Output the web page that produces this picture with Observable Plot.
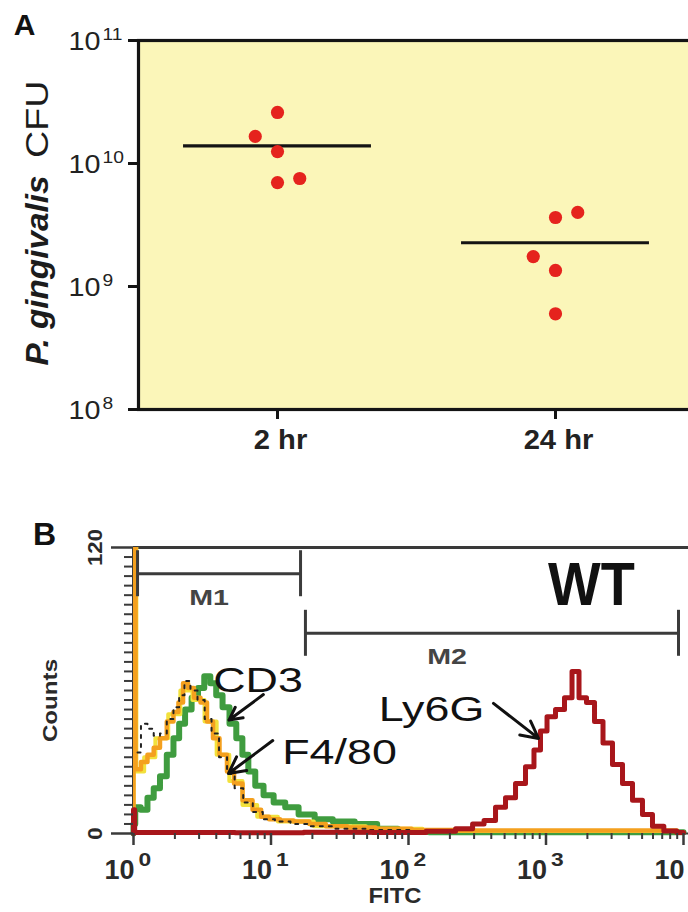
<!DOCTYPE html>
<html><head><meta charset="utf-8">
<script src="https://cdn.jsdelivr.net/npm/d3@7"></script>
<script src="https://cdn.jsdelivr.net/npm/@observablehq/plot@0.6"></script>
<style>
html,body{margin:0;padding:0;background:#fff;}
#fig{position:relative;width:688px;height:912px;overflow:hidden;background:#fff;}
#fig svg{display:block;}
</style></head><body><div id="fig"></div>
<script>
// ---------------- Panel A data ----------------
const timeGroups = ["2 hr", "24 hr"];
const cfu2hr  = [2.60e10, 1.66e10, 1.25e10, 7.0e9, 7.55e9];
const lane2hr = [0, -1, 0, 0, 1];
const cfu24hr  = [3.64e9, 4.0e9, 1.75e9, 1.35e9, 6.0e8];
const lane24hr = [0, 1, -1, 0, 0];
const cfuTicks = [1e8, 1e9, 1e10, 1e11];

// ---------------- Panel B data ----------------
const fitcDecades = [1, 10, 100, 1000, 10000];
const countTicks = [0, 120];
const cd3 = [[1,0],[1,4],[1.06,11],[1.2,10],[1.33,15],[1.48,19],[1.64,24],[1.86,33],[2.05,40],[2.25,46],[2.5,52],[2.8,57],[3.1,61],[3.45,66],[3.8,63],[4.2,58],[4.7,53],[5.3,46],[5.9,40],[6.5,33],[7.2,26],[8.2,20],[9.5,16],[11.5,13],[14,11],[18,8],[24,6],[33,5],[50,4],[70,2],[100,1],[200,0.5],[10000,0.5]];
const f480 = [[1,0],[1,130],[1.07,27],[1.2,30],[1.33,33],[1.48,36],[1.64,40],[1.86,47],[2.05,51],[2.2,55],[2.39,63],[2.6,61],[2.92,57],[3.23,55],[3.63,47],[3.95,40],[4.51,33],[5.08,26],[5.71,21],[6.75,14],[7.98,10],[9,7],[10.4,6],[13,5.5],[16.4,5],[22,4],[28.5,3],[45,2.5],[74,2],[150,1.5],[300,1.3],[1000,1.3],[3000,1.3],[8000,1.3],[10000,0]];
const isotype = [[1.07,34],[1.2,46],[1.33,44],[1.48,41],[1.64,42],[1.86,48],[2.05,53],[2.25,58],[2.45,64],[2.75,60],[3.1,56],[3.5,48],[3.9,42],[4.5,32],[5.1,25],[5.8,19],[6.8,13],[8,9],[9.5,6],[12,5],[16,4],[22,3],[35,2],[70,1.5],[150,1]];
const yellowIso = [[1,0],[1,130],[1.1,26],[1.3,32],[1.6,40],[2.0,50],[2.4,60],[3,56],[3.6,47],[4.5,33],[5.5,22],[7,12],[9,7],[14,5],[30,3],[80,2],[200,0.6],[10000,0.6]];
const ly6g = [[1,0],[1,10],[1.04,0.4],[3,0.4],[10,0.3],[30,0.5],[100,0.4],[180,0.9],[269,2],[318,4],[395,5.5],[467,11],[552,15],[653,21],[771,28],[867,35],[959,43],[1079,49],[1275,52],[1458,57],[1640,68],[1842,57],[2108,55],[2410,47],[2800,38],[3311,29],[3917,21],[4627,14],[5470,8],[6470,3],[8000,1],[10000,0.4]];
const markerNames = ["M1", "M2"];
const markerFrom  = [1.07, 17.8];
const markerTo    = [16.4, 9200];
const markerLevel = [109, 84];
const annotText  = ["CD3", "F4/80", "Ly6G"];
const annotFitc  = [8.05, 31.5, 147];
const annotCount = [64, 34, 52];
const arrowStart = [[8.8, 58.3], [10.3, 39.0], [415, 54.6]];
const arrowTip   = [[4.95, 47.6], [4.91, 25.2], [882, 39.9]];

// ---------------- derived tables ----------------
const points = [
  ...cfu2hr.map((v, i) => ({g: 1, lane: lane2hr[i], cfu: v})),
  ...cfu24hr.map((v, i) => ({g: 2, lane: lane24hr[i], cfu: v}))
];
const means = timeGroups.map((t, i) => ({g: i + 1, label: t, mean: d3.mean(i === 0 ? cfu2hr : cfu24hr)}));
const markers = markerNames.map((n, i) => ({name: n, from: markerFrom[i], to: markerTo[i], level: markerLevel[i]}));
const annots = annotText.map((t, i) => ({text: t, fitc: annotFitc[i], count: annotCount[i]}));
const arrows = annotText.map((t, i) => ({x1: arrowStart[i][0], y1: arrowStart[i][1], x2: arrowTip[i][0], y2: arrowTip[i][1]}));
const minorFitc = [1, 10, 100, 1000].flatMap(d => d3.range(2, 10).map(k => k * d));

const LANE = 0.08, HALF = 0.338;
const FONT = "'Liberation Sans', Arial, Helvetica, sans-serif";
const MID = {textAnchor: "middle", lineAnchor: "middle"};

// ---------------- Panel A ----------------
const plotA = Plot.plot({
  width: 688, height: 470,
  marginLeft: 138, marginTop: 40, marginBottom: 61, marginRight: -6,
  style: {fontFamily: FONT, background: "white"},
  x: {type: "linear", domain: [0.5, 2.5]},
  y: {type: "log", domain: [1e8, 1e11]},
  marks: [
    Plot.frame({fill: "#fbf6b9", stroke: "none"}),
    Plot.ruleY(means, {y: "mean", x1: d => d.g - HALF, x2: d => d.g + HALF, stroke: "#141414", strokeWidth: 3.2}),
    Plot.dot(points, {x: d => d.g + d.lane * LANE, y: "cfu", r: 6.6, fill: "#e5231d", stroke: "none"}),
    Plot.frame({stroke: "#141414", strokeWidth: 3.2}),
    Plot.axisY(cfuTicks, {tickSize: 10, strokeWidth: 3, stroke: "#141414", tickFormat: () => "", label: null}),
    Plot.axisX([1, 2], {tickSize: 10, strokeWidth: 3, stroke: "#141414", tickFormat: () => "", label: null}),
    Plot.text(cfuTicks, {y: d => d, frameAnchor: "left", text: () => "10", textAnchor: "end", lineAnchor: "middle", dx: -38, dy: 1, fontSize: 25, fill: "#222", ariaDescription: "ybase"}),
    Plot.text(cfuTicks, {y: d => d, frameAnchor: "left", text: d => String(Math.round(Math.log10(d))), textAnchor: "start", lineAnchor: "middle", dx: -36, dy: -6, fontSize: 16, fill: "#222", ariaDescription: "yexp"}),
    Plot.text(means, {x: "g", frameAnchor: "bottom", text: "label", ...MID, dx: 3, dy: 31, fontSize: 27, fontWeight: "bold", fill: "#222", ariaDescription: "xlab"}),
    Plot.text(["P. gingivalis"], {text: d => d, frameAnchor: "bottom-left", rotate: -90, textAnchor: "start", lineAnchor: "middle", dx: -101, dy: -44, fontSize: 32, fontWeight: "bold", fontStyle: "italic", fill: "#1c1c1c", ariaDescription: "ytitle1"}),
    Plot.text(["CFU"], {text: d => d, frameAnchor: "top-left", rotate: -90, textAnchor: "end", lineAnchor: "middle", dx: -101, dy: 40, fontSize: 32, fill: "#1c1c1c", ariaDescription: "ytitle2"}),
    Plot.text(["A"], {text: d => d, frameAnchor: "top-left", ...MID, dx: -114, dy: -15, fontSize: 30, fontWeight: "bold", fill: "#111"})
  ]
});

// ---------------- Panel B ----------------
const xy = {x: d => d[0], y: d => d[1], curve: "step"};
const tickStroke = "#3a3a3a";
const plotB = Plot.plot({
  width: 688, height: 442,
  marginLeft: 133, marginRight: 0, marginTop: 77, marginBottom: 79,
  style: {fontFamily: FONT, background: "white"},
  x: {type: "log", domain: [1, 1e4], range: [133, 683]},
  y: {type: "linear", domain: [0, 120]},
  marks: [
    Plot.ruleY([120], {stroke: tickStroke, strokeWidth: 3}),
    Plot.ruleX([1], {stroke: tickStroke, strokeWidth: 3}),
    Plot.ruleY([0], {stroke: tickStroke, strokeWidth: 2}),
    Plot.line(cd3, {...xy, stroke: "#3f9c3f", strokeWidth: 6}),
    Plot.line(yellowIso, {...xy, stroke: "#f2e13c", strokeWidth: 4, clip: true}),
    Plot.line(f480, {...xy, stroke: "#f4a01e", strokeWidth: 4.5, clip: true}),
    Plot.line(isotype, {...xy, stroke: "#222", strokeWidth: 2, strokeDasharray: "3,6"}),
    Plot.line(ly6g, {...xy, stroke: "#a8161b", strokeWidth: 5}),
    Plot.axisY(countTicks, {tickSize: 22, strokeWidth: 2.5, stroke: tickStroke, tickFormat: () => "", label: null}),
    Plot.axisY(d3.range(4, 120, 4), {tickSize: 9, strokeWidth: 2, stroke: tickStroke, tickFormat: () => "", label: null}),
    Plot.axisX(fitcDecades, {tickSize: 12, strokeWidth: 2.5, stroke: tickStroke, tickFormat: () => "", label: null}),
    Plot.axisX(minorFitc, {tickSize: 6, strokeWidth: 2, stroke: tickStroke, tickFormat: () => "", label: null}),
    // gate markers
    Plot.ruleY(markers, {y: "level", x1: "from", x2: "to", stroke: "#3b3b3b", strokeWidth: 3}),
    Plot.ruleX(markers, {x: "from", y1: "level", y2: "level", insetTop: -23, insetBottom: -23, stroke: "#3b3b3b", strokeWidth: 3}),
    Plot.ruleX(markers, {x: "to", y1: "level", y2: "level", insetTop: -23, insetBottom: -23, stroke: "#3b3b3b", strokeWidth: 3}),
    Plot.text(markers.filter(d => d.name === "M1"), {x: d => Math.sqrt(d.from * d.to), y: "level", text: "name", ...MID, dx: -10, dy: 24, fontSize: 22, fontWeight: "bold", fill: "#444", ariaDescription: "mlab"}),
    Plot.text(markers.filter(d => d.name === "M2"), {x: d => Math.sqrt(d.from * d.to), y: "level", text: "name", ...MID, dx: -45, dy: 24, fontSize: 22, fontWeight: "bold", fill: "#444", ariaDescription: "mlab"}),
    // annotations
    Plot.arrow(arrows, {x1: "x1", y1: "y1", x2: "x2", y2: "y2", stroke: "#111", strokeWidth: 3, headLength: 14, headAngle: 55}),
    Plot.text(annots, {x: "fitc", y: "count", text: "text", ...MID, fontSize: 35, fill: "#111", ariaDescription: "annot"}),
    Plot.text(["WT"], {text: d => d, frameAnchor: "top-right", ...MID, dx: -97, dy: 38, fontSize: 62, fontWeight: "bold", fill: "#111", ariaDescription: "wt"}),
    // axis labels
    Plot.text(fitcDecades, {x: d => d, frameAnchor: "bottom", text: () => "10", textAnchor: "end", lineAnchor: "middle", dx: 1, dy: 37, fontSize: 27, fontWeight: "bold", fill: "#2a2a2a", ariaDescription: "xbase"}),
    Plot.text(fitcDecades, {x: d => d, frameAnchor: "bottom", text: d => String(Math.round(Math.log10(d))), textAnchor: "start", lineAnchor: "middle", dx: 5, dy: 26, fontSize: 19, fontWeight: "bold", fill: "#2a2a2a", ariaDescription: "xexp"}),
    Plot.text(countTicks, {y: d => d, frameAnchor: "left", text: d => String(d), rotate: -90, ...MID, dx: -38, fontSize: 21, fontWeight: "bold", fill: "#2a2a2a", ariaDescription: "ylab"}),
    Plot.text(["Counts"], {text: d => d, frameAnchor: "left", rotate: -90, ...MID, dx: -83, dy: 10, fontSize: 21, fontWeight: "bold", fill: "#2a2a2a", ariaDescription: "counts"}),
    Plot.text(["FITC"], {text: d => d, frameAnchor: "bottom", ...MID, dx: -16, dy: 62, fontSize: 22, fontWeight: "bold", fill: "#2a2a2a", ariaDescription: "fitc"}),
    Plot.text(["B"], {text: d => d, frameAnchor: "top-left", ...MID, dx: -89, dy: -13, fontSize: 32, fontWeight: "bold", fill: "#111"})
  ]
});

const fig = document.getElementById("fig");
fig.append(plotA, plotB);

function stretch(svg, label, k) {
  svg.querySelectorAll(`g[aria-description="${label}"] text`).forEach(t => {
    const L = t.getComputedTextLength();
    if (L > 0) {
      t.setAttribute("textLength", (L * k).toFixed(1));
      t.setAttribute("lengthAdjust", "spacingAndGlyphs");
    }
  });
}
stretch(plotA, "ybase", 1.15);
stretch(plotA, "yexp", 1.2);
stretch(plotA, "xlab", 1.08);
stretch(plotA, "ytitle1", 1.04);
stretch(plotA, "ytitle2", 1.18);
stretch(plotB, "annot", 1.28);
stretch(plotB, "mlab", 1.3);
stretch(plotB, "wt", 0.9);
stretch(plotB, "xexp", 1.2);
stretch(plotB, "counts", 1.15);
stretch(plotB, "fitc", 1.08);
stretch(plotB, "ylab", 1.05);
</script>
</body></html>
